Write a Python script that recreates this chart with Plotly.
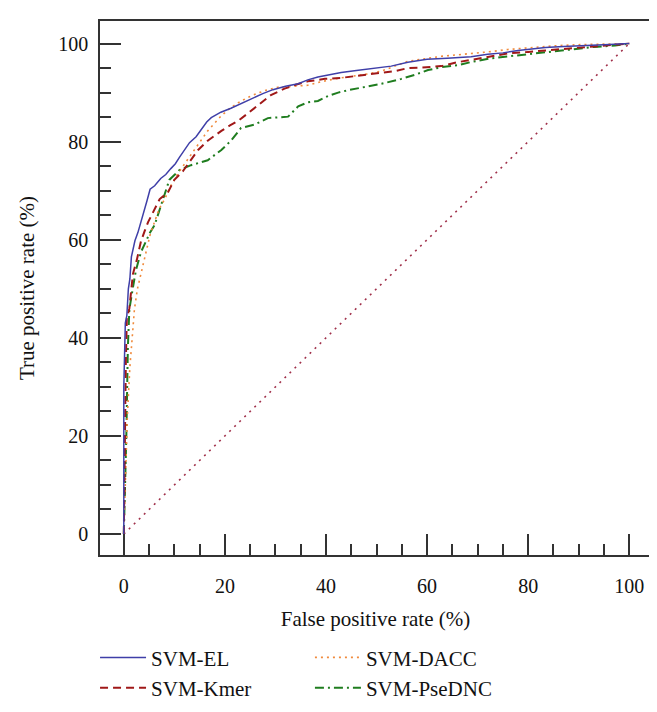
import plotly.graph_objects as go

# ---- data (in %) ----
el_fpr = [0, 0, 0.3, 0.6, 0.9, 1.2, 1.5, 2.2, 2.8, 3.4, 4.0, 4.6, 5.2, 6.1, 7.3, 8.3, 9.3, 10.2, 11.0, 12.0,
          13.0, 14.3, 15.3, 16.4, 17.3, 19.2, 21.2, 23.2, 25.5, 27.5, 29.5, 32.0, 34.5, 36.4, 38.4, 40.5, 43.0,
          46.0, 49.7, 52.9, 56.2, 60.0, 64.0, 68.7, 72.0, 75.0, 78.0, 81.0, 83.4, 87.0, 92.0, 96.0, 100]
el_tpr = [0, 30, 43, 44.5, 50, 52, 56.5, 59.8, 61.5, 63.5, 66, 68, 70.3, 71, 72.5, 73.3, 74.5, 75.5, 76.8, 78.2,
          79.8, 81, 82.5, 84, 84.9, 86, 86.8, 87.8, 88.8, 89.8, 90.6, 91.3, 91.8, 92.6, 93.2, 93.6, 94.1,
          94.5, 94.9, 95.4, 96.2, 96.8, 97.0, 97.3, 97.8, 98.1, 98.6, 98.9, 99.2, 99.4, 99.7, 99.8, 100]

kmer_fpr = [0, 0.2, 0.4, 0.6, 1.1, 1.5, 1.8, 2.6, 3.4, 4.1, 4.8, 5.6, 6.4, 7.1, 8.7, 10.0, 11.7, 13.3, 14.7,
            16.6, 18.0, 19.3, 21.0, 22.6, 24.2, 25.9, 27.5, 29.1, 31.8, 34.0, 36.4, 39.8, 43.0, 46.3, 49.7,
            53.7, 56.2, 59.0, 62.8, 66.0, 69.5, 73.0, 76.0, 80.0, 86.0, 90.0, 94.5, 97.0, 100]
kmer_tpr = [0, 20, 35, 44, 46, 50, 53, 56, 59.7, 61.7, 63.6, 65.2, 66.8, 68.3, 69.6, 72.2, 74, 76.2, 78.3,
            80.2, 81.3, 82.2, 83.3, 84.2, 85.5, 86.9, 88.2, 89.5, 90.8, 91.6, 92.3, 92.8, 93.0, 93.4, 93.8,
            94.4, 95.0, 95.1, 95.4, 96.2, 96.8, 97.4, 98.0, 98.3, 98.8, 99.1, 99.4, 99.6, 100]

dacc_fpr = [0, 0.3, 0.7, 1.2, 1.7, 2.1, 2.7, 3.4, 4.2, 5.2, 6.2, 7.0, 8.1, 9.3, 10.7, 12.2, 14.0, 15.3, 16.6,
            18.0, 19.3, 21.0, 22.6, 24.5, 26.5, 28.5, 30.5, 33.5, 36.4, 39.0, 41.7, 45.0, 48.3, 51.0, 53.5,
            56.2, 59.5, 62.8, 66.0, 69.5, 73.0, 76.0, 81.0, 86.0, 91.0, 97.0, 100]
dacc_tpr = [0, 12, 24, 34, 41, 45.8, 50, 53, 57, 61, 64, 66.3, 68.3, 71, 73.5, 75.8, 78.3, 80.3, 82.2,
            83.9, 85.3, 86.8, 87.9, 89.0, 89.9, 90.6, 91.1, 91.3, 91.5, 92.2, 92.8, 93.3, 93.8, 94.4, 95.4,
            96.4, 96.9, 97.4, 97.7, 98.0, 98.4, 98.8, 99.2, 99.6, 99.8, 100, 100]

psednc_fpr = [0, 0.3, 0.5, 0.8, 1.1, 1.6, 2.4, 3.4, 4.4, 5.2, 6.1, 7.1, 8.1, 9.0, 10.0, 11.0, 13.3, 16.6,
              18.0, 19.3, 21.2, 23.2, 25.9, 28.5, 32.5, 34.5, 36.4, 38.4, 40.4, 42.4, 44.4, 47.7, 51.0,
              54.9, 57.5, 60.2, 63.0, 66.1, 69.0, 72.7, 77.0, 81.4, 85.0, 89.3, 93.0, 97.2, 100]
psednc_tpr = [0, 10, 20, 38, 45.8, 49, 53.8, 57.5, 59.7, 61.5, 63, 66.3, 69.6, 72.2, 73.2, 74.2, 75.2, 76.2,
              77.3, 78.3, 80.2, 82.8, 83.5, 84.8, 85.1, 87.2, 88.0, 88.3, 89.3, 90.0, 90.5, 91.1, 91.8,
              92.8, 93.6, 94.6, 95.2, 95.6, 96.3, 97.0, 97.5, 98.0, 98.5, 99.0, 99.3, 99.6, 100]

diag = [0, 100]

x_ticks = [0, 20, 40, 60, 80, 100]
y_ticks = [0, 20, 40, 60, 80, 100]

FONT = "Liberation Serif"
AXIS_COLOR = "#333333"

fig = go.Figure()

fig.add_trace(go.Scatter(x=diag, y=diag, mode="lines", showlegend=False,
                         line=dict(color="#a0304a", width=1.6, dash="2px,5px")))
fig.add_trace(go.Scatter(x=psednc_fpr, y=psednc_tpr, mode="lines", name="SVM-PseDNC", legend="legend2",
                         line=dict(color="#1f7d1f", width=2, dash="9px,4px,2px,4px")))
fig.add_trace(go.Scatter(x=dacc_fpr, y=dacc_tpr, mode="lines", name="SVM-DACC", legend="legend2",
                         line=dict(color="#f08a3c", width=1.6, dash="2px,4px")))
fig.add_trace(go.Scatter(x=kmer_fpr, y=kmer_tpr, mode="lines", name="SVM-Kmer", legend="legend",
                         line=dict(color="#a01818", width=2, dash="8px,5px")))
fig.add_trace(go.Scatter(x=el_fpr, y=el_tpr, mode="lines", name="SVM-EL", legend="legend",
                         line=dict(color="#3f3fa8", width=1.5)))

axis_common = dict(
    showgrid=False, zeroline=False, showline=True, linecolor=AXIS_COLOR, linewidth=1.5,
    mirror=True, ticks="inside", ticklen=21, tickwidth=1.5, tickcolor=AXIS_COLOR,
    tickfont=dict(family=FONT, size=20, color="#111111"),
    minor=dict(ticks="inside", ticklen=11, tickwidth=1.5, tickcolor=AXIS_COLOR, dtick=5),
    automargin=False,
)

fig.update_layout(
    width=657, height=712,
    margin=dict(l=92, r=14, t=13, b=149),
    paper_bgcolor="white", plot_bgcolor="white",
    font=dict(family=FONT, size=21, color="#111111"),
    xaxis=dict(range=[-4.71, 104.3], tickmode="array", tickvals=x_ticks,
               title=dict(text="False positive rate (%)", font=dict(family=FONT, size=21), standoff=16),
               ticklabelstandoff=12, **axis_common),
    yaxis=dict(range=[-4.28, 104.6], tickmode="array", tickvals=y_ticks,
               title=dict(text="True positive rate (%)", font=dict(family=FONT, size=21), standoff=18),
               ticklabelstandoff=6, **axis_common),
    legend=dict(x=-0.009, y=-0.154, xanchor="left", yanchor="top", orientation="v",
                font=dict(family=FONT, size=21), bgcolor="rgba(0,0,0,0)", traceorder="reversed",
                tracegroupgap=0, itemwidth=46),
    legend2=dict(x=0.381, y=-0.154, xanchor="left", yanchor="top", orientation="v",
                 font=dict(family=FONT, size=21), bgcolor="rgba(0,0,0,0)", traceorder="reversed",
                 tracegroupgap=0, itemwidth=46),
)

fig.write_html("out.html")
